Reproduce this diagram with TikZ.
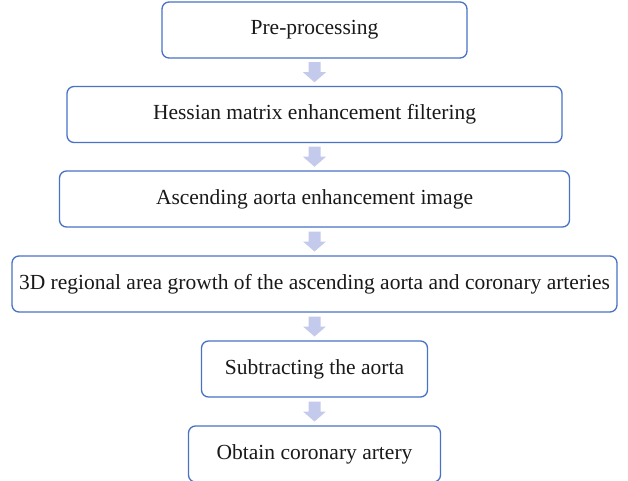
\documentclass[tikz,border=0pt]{standalone}
\usepackage{fontspec}
\setmainfont{Liberation Serif}
\usetikzlibrary{calc}
\definecolor{boxblue}{RGB}{72,114,196}
\definecolor{arrowfill}{RGB}{196,202,236}
\tikzset{
  box/.style={draw=boxblue, line width=1.3pt, rounded corners=7pt, fill=white,
    inner sep=0pt, font=\fontsize{21.5}{25}\selectfont, text=black!90},
  flowarrow/.pic={
    \fill[arrowfill] (-6,-10) -- (6,-10) -- (6,0) -- (11.5,0) -- (0,10) -- (-11.5,0) -- (-6,0) -- cycle;
  }
}
\begin{document}
\begin{tikzpicture}[x=1pt,y=-1pt]
\useasboundingbox (0,0) rectangle (628,481);
\node[box, minimum width=305pt, minimum height=56pt] (b1) at (314.5,30) {Pre-processing};
\node[box, minimum width=495pt, minimum height=56pt] (b2) at (314.5,114.5) {Hessian matrix enhancement filtering};
\node[box, minimum width=510pt, minimum height=56pt] (b3) at (314.5,199) {Ascending aorta enhancement image};
\node[box, minimum width=605pt, minimum height=56pt] (b4) at (314.5,284) {3D regional area growth of the ascending aorta and coronary arteries};
\node[box, minimum width=226pt, minimum height=56pt] (b5) at (314.5,369) {Subtracting the aorta};
\node[box, minimum width=252pt, minimum height=56pt] (b6) at (314.5,454) {Obtain coronary artery};
\foreach \u/\v in {b1/b2,b2/b3,b3/b4,b4/b5,b5/b6}
  \pic at ($(\u.south)!0.5!(\v.north)$) {flowarrow};
\end{tikzpicture}
\end{document}
